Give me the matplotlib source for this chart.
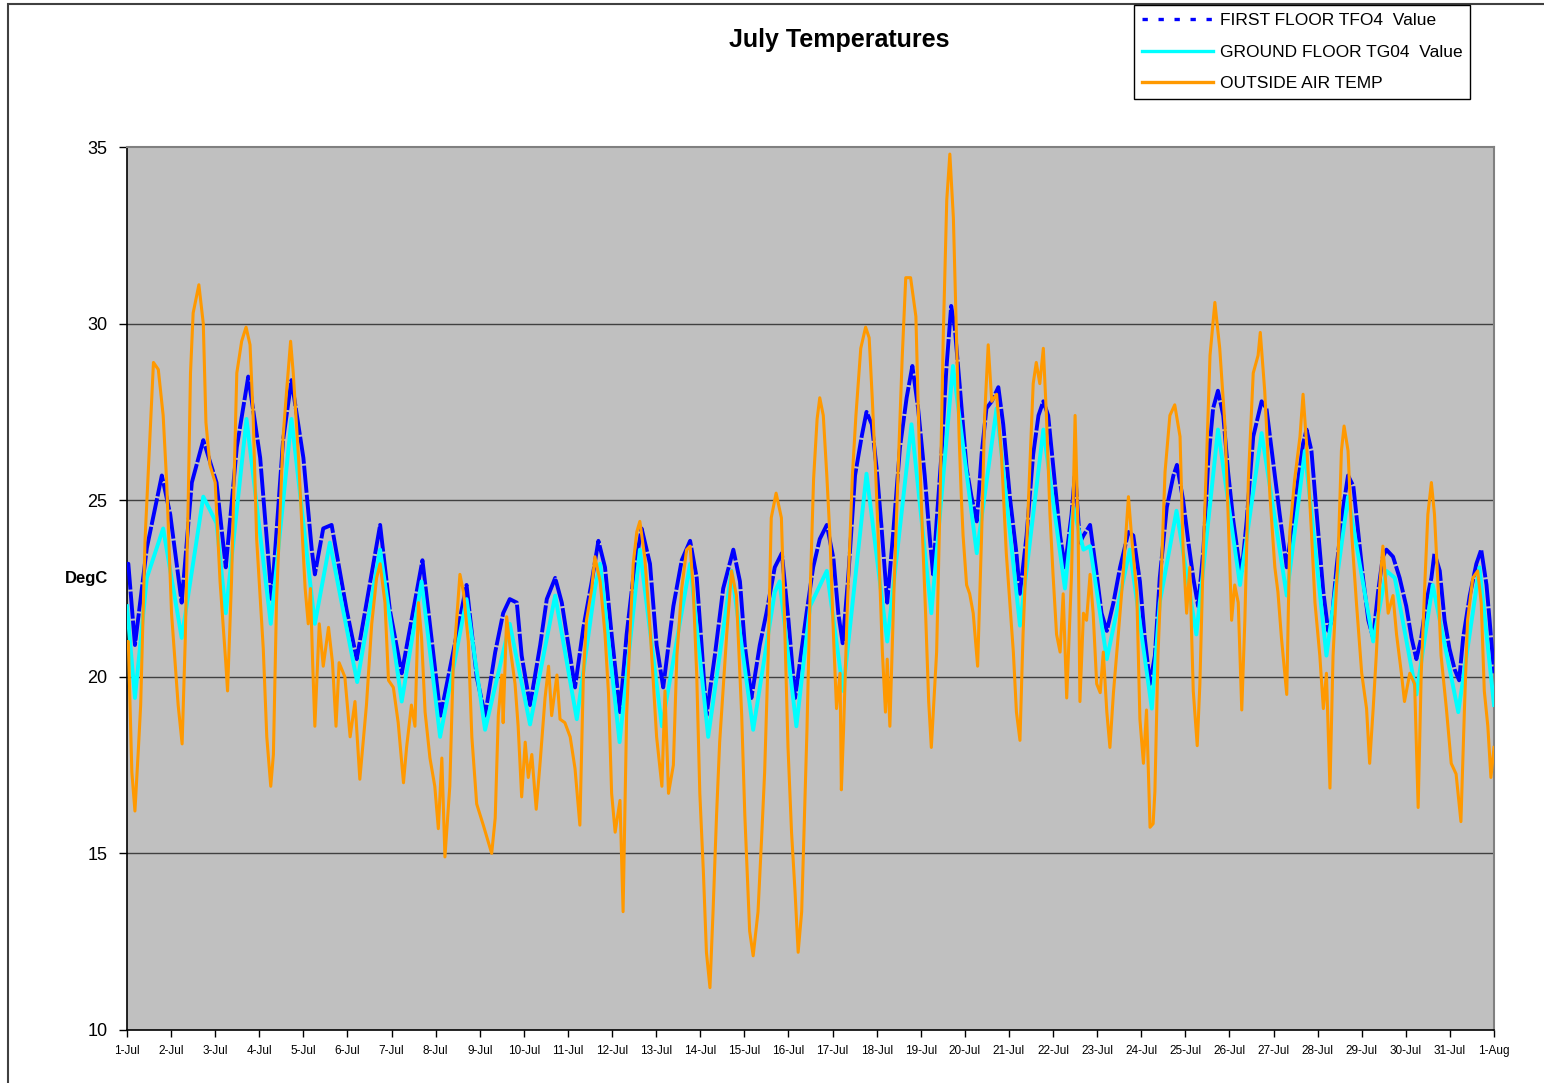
import numpy as np
from matplotlib import pyplot as plt
from matplotlib.lines import Line2D
from matplotlib.patches import Rectangle

plt.rcParams['font.family'] = ['Liberation Sans', 'DejaVu Sans']

# days since 1-Jul
first_floor_day = [0.0, 0.03, 0.18, 0.45, 0.79, 0.98, 1.24, 1.47, 1.73, 2.03, 2.24, 2.49, 2.75, 3.02, 3.28,
                   3.54, 3.73, 4.0, 4.19, 4.26, 4.45, 4.64, 4.98, 5.21, 5.74, 5.96, 6.23, 6.70, 7.11, 7.70,
                   7.93, 8.12, 8.35, 8.53, 8.68, 8.84, 8.95, 9.14, 9.37, 9.52, 9.71, 9.86, 10.01, 10.16,
                   10.35, 10.54, 10.69, 10.84, 10.99, 11.18, 11.33, 11.48, 11.67, 11.86, 12.01, 12.16,
                   12.39, 12.58, 12.77, 12.92, 13.03, 13.14, 13.33, 13.52, 13.75, 13.9, 14.01, 14.16,
                   14.35, 14.5, 14.69, 14.85, 15.0, 15.15, 15.41, 15.56, 15.71, 15.87, 16.02, 16.13,
                   16.23, 16.36, 16.51, 16.66, 16.77, 16.89, 17.0, 17.11, 17.24, 17.37, 17.53, 17.68,
                   17.81, 17.94, 18.09, 18.2, 18.28, 18.36, 18.47, 18.58, 18.69, 18.77, 18.88, 19.04,
                   19.15, 19.27, 19.38, 19.49, 19.61, 19.76, 19.87, 20.02, 20.17, 20.25, 20.4, 20.55,
                   20.67, 20.78, 20.89, 21.04, 21.16, 21.27, 21.42, 21.5, 21.61, 21.69, 21.84, 21.99,
                   22.1, 22.22, 22.37, 22.52, 22.71, 22.82, 22.97, 23.08, 23.2, 23.31, 23.42, 23.58,
                   23.73, 23.81, 23.95, 24.07, 24.18, 24.29, 24.41, 24.52, 24.63, 24.74, 24.86, 24.97,
                   25.09, 25.2, 25.28, 25.39, 25.54, 25.73, 25.84, 25.99, 26.14, 26.3, 26.37, 26.52,
                   26.67, 26.75, 26.86, 26.98, 27.13, 27.24, 27.32, 27.43, 27.58, 27.69, 27.81, 27.92,
                   28.03, 28.15, 28.26, 28.37, 28.48, 28.56, 28.71, 28.86, 29.01, 29.13, 29.24, 29.35,
                   29.46, 29.58, 29.65, 29.77, 29.88, 29.99, 30.11, 30.21, 30.3, 30.45, 30.6, 30.71,
                   30.83, 30.9, 31.0]
first_floor_temp = [23.2, 23.2, 20.9, 23.65, 25.7, 24.6, 22.1, 25.5, 26.7, 25.5, 23.1, 26.5, 28.5, 26.2, 22.2,
                    26.7, 28.4, 26.2, 23.6, 22.9, 24.2, 24.3, 21.9, 20.5, 24.3, 21.9, 20.1, 23.3, 18.9, 22.6,
                    20.0, 18.9, 20.7, 21.8, 22.2, 22.1, 20.6, 19.2, 20.9, 22.2, 22.8, 22.1, 20.9, 19.7,
                    21.4, 22.7, 23.85, 23.1, 21.2, 19.0, 21.2, 22.8, 24.2, 23.2, 20.9, 19.7,
                    22.0, 23.3, 23.85, 22.8, 20.9, 18.9, 20.6, 22.5, 23.6, 22.7, 20.9, 19.4,
                    20.9, 21.8, 23.1, 23.5, 21.6, 19.4, 21.8, 23.1, 23.9, 24.3, 23.35, 21.8,
                    20.95, 22.9, 25.7, 26.8, 27.5, 27.15, 25.9, 24.25, 22.1, 24.0, 26.5, 27.9,
                    28.8, 27.6, 25.7, 24.0, 22.9, 24.4, 26.3, 28.7, 30.5, 29.9, 28.3, 25.9,
                    25.1, 24.4, 26.3, 27.6, 27.8, 28.2, 27.15, 25.1, 23.5, 22.35, 24.0, 26.3,
                    27.4, 27.8, 27.4, 25.5, 24.0, 23.1, 24.6, 25.8, 23.8, 24.0, 24.3, 22.9,
                    21.8, 21.3, 22.1, 23.1, 24.1, 24.0, 22.7, 21.1, 19.8, 20.6, 22.8, 24.8,
                    25.7, 26.0, 25.0, 23.8, 22.8, 22.0, 23.6, 26.1, 27.6, 28.1, 27.4, 25.8,
                    24.4, 23.4, 23.0, 24.4, 26.8, 27.8, 27.6, 26.1, 24.6, 23.1, 23.8, 25.2,
                    26.6, 27.0, 26.4, 24.6, 22.4, 21.3, 21.6, 23.1, 24.8, 25.7, 25.4, 24.1,
                    22.8, 21.6, 21.1, 22.4, 23.4, 23.6, 23.4, 22.8, 22.0, 21.1, 20.5, 21.1,
                    22.1, 22.8, 23.5, 23.0, 21.6, 20.8, 20.2, 19.9, 21.1, 22.3, 23.2, 23.6,
                    22.6, 21.6, 20.1]

ground_floor_day = [0.0, 0.18, 0.45, 0.82, 1.24, 1.73, 2.03, 2.24, 2.71, 3.26, 3.73, 4.26, 4.6, 5.22, 5.74,
                    6.23, 6.68, 7.1, 7.7, 8.12, 8.68, 9.14, 9.71, 10.2, 10.61, 10.73, 11.17, 11.63, 12.13,
                    12.77, 13.18, 13.71, 14.2, 14.69, 14.8, 15.18, 15.49, 15.87, 16.24, 16.77, 17.24,
                    17.79, 18.24, 18.73, 19.27, 19.72, 20.25, 20.78, 21.27, 21.46, 21.69, 21.84, 22.22,
                    22.74, 23.24, 23.42, 23.8, 24.25, 24.74, 25.24, 25.73, 26.3, 26.71, 27.2, 27.69,
                    28.26, 28.56, 28.75, 29.24, 29.61, 30.19, 30.67, 31.0]
ground_floor_temp = [22.0, 19.4, 22.8, 24.2, 21.1, 25.1, 24.35, 21.8, 27.3, 21.5, 27.3, 21.5, 23.8, 19.85, 23.6,
                     19.3, 22.7, 18.3, 22.2, 18.5, 21.5, 18.65, 22.3, 18.8, 22.5, 23.2, 18.15, 23.6, 18.6,
                     23.2, 18.3, 23.0, 18.5, 22.4, 22.7, 18.6, 22.0, 23.0, 19.6, 25.75, 21.0,
                     27.15, 21.8, 28.8, 23.5, 27.6, 21.45, 27.0, 22.5, 24.8, 23.6, 23.7, 20.5,
                     23.6, 19.1, 22.1, 24.7, 21.2, 27.0, 22.6, 26.9, 22.3, 26.4, 20.6, 25.1,
                     21.0, 23.0, 22.8, 19.5, 22.6, 19.0, 23.1, 19.2]

outside_day = [0.0, 0.03, 0.11, 0.18, 0.26, 0.31, 0.41, 0.52, 0.6, 0.71, 0.82, 0.9, 1.01, 1.16, 1.25, 1.32,
               1.39, 1.44, 1.5, 1.63, 1.73, 1.79, 1.88, 2.0, 2.11, 2.24, 2.28, 2.37, 2.49, 2.6, 2.7, 2.79,
               2.86, 2.94, 3.09, 3.17, 3.26, 3.32, 3.39, 3.54, 3.62, 3.71, 3.77, 3.89, 3.98, 4.04, 4.11,
               4.16, 4.21, 4.26, 4.36, 4.45, 4.57, 4.66, 4.74, 4.81, 4.94, 5.06, 5.17, 5.28, 5.43, 5.55,
               5.66, 5.74, 5.85, 5.93, 6.04, 6.15, 6.27, 6.34, 6.45, 6.53, 6.61, 6.68, 6.76, 6.87, 6.98,
               7.06, 7.14, 7.21, 7.32, 7.4, 7.48, 7.55, 7.63, 7.74, 7.82, 7.93, 8.08, 8.27, 8.35, 8.42,
               8.5, 8.53, 8.61, 8.68, 8.8, 8.87, 8.95, 9.03, 9.1, 9.18, 9.28, 9.37, 9.48, 9.56, 9.63,
               9.75, 9.82, 9.93, 10.05, 10.16, 10.27, 10.35, 10.42, 10.54, 10.61, 10.73, 10.84, 10.92,
               10.99, 11.07, 11.18, 11.25, 11.33, 11.41, 11.48, 11.56, 11.63, 11.74, 11.86, 12.01,
               12.13, 12.2, 12.28, 12.39, 12.47, 12.58, 12.69, 12.77, 12.84, 12.92, 12.99, 13.07,
               13.14, 13.22, 13.29, 13.37, 13.44, 13.6, 13.71, 13.82, 13.94, 14.01, 14.12, 14.2,
               14.31, 14.39, 14.46, 14.54, 14.61, 14.72, 14.84, 14.92, 14.99, 15.07, 15.15, 15.22,
               15.3, 15.42, 15.49, 15.57, 15.65, 15.71, 15.79, 15.87, 15.94, 16.02, 16.09, 16.17,
               16.2, 16.25, 16.33, 16.45, 16.53, 16.64, 16.75, 16.83, 16.9, 16.98, 17.05, 17.13,
               17.2, 17.24, 17.3, 17.39, 17.5, 17.58, 17.66, 17.77, 17.89, 17.96, 18.04, 18.11,
               18.18, 18.24, 18.36, 18.44, 18.51, 18.59, 18.66, 18.74, 18.81, 18.87, 18.92, 18.96,
               19.04, 19.11, 19.19, 19.29, 19.38, 19.45, 19.53, 19.61, 19.72, 19.83, 19.94, 20.1,
               20.17, 20.25, 20.32, 20.43, 20.55, 20.62, 20.7, 20.78, 20.85, 20.93, 21.0, 21.08,
               21.16, 21.23, 21.31, 21.42, 21.5, 21.57, 21.61, 21.69, 21.76, 21.84, 21.91, 21.99,
               22.07, 22.14, 22.22, 22.29, 22.37, 22.48, 22.59, 22.71, 22.78, 22.9, 22.97, 23.05,
               23.12, 23.2, 23.27, 23.31, 23.38, 23.46, 23.54, 23.65, 23.76, 23.88, 23.95, 24.03,
               24.1, 24.18, 24.27, 24.33, 24.41, 24.48, 24.56, 24.67, 24.78, 24.9, 24.97, 25.05,
               25.12, 25.2, 25.28, 25.35, 25.43, 25.54, 25.65, 25.7, 25.8, 25.92, 26.03, 26.1,
               26.18, 26.3, 26.37, 26.48, 26.6, 26.67, 26.75, 26.86, 26.94, 27.05, 27.13, 27.2,
               27.28, 27.35, 27.47, 27.54, 27.6, 27.69, 27.77, 27.88, 28.0, 28.11, 28.18, 28.26,
               28.33, 28.41, 28.48, 28.6, 28.71, 28.79, 28.9, 28.97, 29.09, 29.2, 29.28, 29.35,
               29.43, 29.5, 29.58, 29.65, 29.73, 29.8, 29.92, 30.03, 30.14, 30.25, 30.33, 30.4,
               30.52, 30.63, 30.71, 30.78, 30.86, 30.93, 31.0]
outside_temp = [21.0, 21.0, 17.3, 16.2, 18.0, 19.2, 23.9, 26.8, 28.9, 28.7, 27.4, 25.5, 21.8, 19.2, 18.1, 21.0,
                25.1, 28.6, 30.3, 31.1, 30.0, 27.2, 26.0, 25.5, 22.7, 20.4, 19.6, 22.7, 28.6, 29.5, 29.9, 29.4,
                27.4, 23.9, 20.8, 18.3, 16.9, 17.8, 22.1, 26.8, 28.1, 29.5, 28.6, 26.2, 23.9, 22.5, 21.5,
                22.5, 20.4, 18.6, 21.5, 20.3, 21.4, 20.4, 18.6, 20.4, 20.0, 18.3, 19.3, 17.1, 19.2, 21.5,
                22.8, 23.2, 22.1, 19.9, 19.7, 18.7, 17.0, 18.0, 19.2, 18.6, 22.1, 21.1, 19.0, 17.7, 16.9,
                15.7, 17.7, 14.9, 16.9, 20.4, 21.7, 22.9, 22.4, 21.0, 18.3, 16.4, 15.8, 15.0, 16.0, 18.9,
                20.05, 18.7, 21.7, 20.9, 19.8, 18.6, 16.6, 18.15, 17.15, 17.8, 16.25, 17.6, 19.4, 20.3, 18.9,
                20.05, 18.8, 18.7, 18.3, 17.4, 15.8, 20.05, 21.6, 22.5, 23.4, 22.7, 21.2, 19.5,
                16.7, 15.6, 16.5, 13.35, 18.9, 21.3, 23.2, 24.1, 24.4, 23.4, 21.4, 18.3,
                16.9, 19.6, 16.7, 17.5, 20.6, 22.5, 23.6, 23.7, 22.5, 20.05, 16.7, 14.5,
                12.2, 11.2, 13.35, 16.1, 18.15, 21.2, 23.0, 22.3, 18.9, 16.1, 12.8, 12.1,
                13.35, 15.4, 17.3, 20.6, 24.5, 25.2, 24.5, 21.2, 18.0, 15.6, 13.9, 12.2,
                13.35, 18.5, 22.3, 25.6, 27.3, 27.9, 27.4, 25.7, 24.0, 21.2, 19.1, 20.1,
                16.8, 18.5, 21.8, 25.7, 27.4, 29.3, 29.9, 29.6, 27.9, 25.7, 23.5, 20.7,
                19.0, 20.5, 18.6, 22.35, 26.3, 29.05, 31.3, 31.3, 30.2, 26.8, 24.0, 21.8,
                19.3, 18.0, 20.7, 25.1, 29.6, 33.5, 34.8, 33.0, 29.6, 26.8, 25.1, 24.0,
                22.6, 22.35, 21.8, 20.3, 24.0, 27.4, 29.4, 27.8, 28.0, 26.3, 23.5, 20.7,
                19.0, 18.2, 21.2, 24.6, 28.3, 28.9, 28.3, 29.3, 27.4, 24.6, 22.9, 21.2,
                20.7, 22.35, 19.4, 22.9, 27.4, 24.0, 19.3, 21.8, 21.6, 22.9, 21.8, 19.8,
                19.55, 20.7, 19.0, 18.0, 19.55, 21.2, 22.9, 25.1, 24.0, 22.35, 18.8, 17.55,
                19.06, 15.74, 15.84, 16.75, 20.6, 23.1, 25.8, 27.4, 27.7, 26.8, 23.6, 21.8,
                23.1, 19.6, 18.05, 19.8, 23.6, 26.1, 29.1, 30.6, 29.3, 27.1, 24.6, 21.6,
                22.6, 22.1, 19.06, 21.6, 25.6, 28.6, 29.1, 29.75, 28.1, 25.1, 23.1, 22.4,
                21.1, 19.5, 24.1, 25.6, 26.8, 28.0, 26.6, 24.1, 22.1, 20.6, 19.1, 20.1,
                16.85, 20.6, 23.6, 26.4, 27.1, 26.4, 24.1, 22.1, 20.1, 19.1, 17.55, 19.1,
                20.6, 22.6, 23.7, 21.8, 22.3, 21.2, 20.1, 19.3, 20.1, 19.8, 16.3, 20.1,
                22.6, 24.6, 25.5, 24.6, 22.6, 20.6, 19.1, 17.55, 17.25, 15.9, 19.1, 21.6,
                22.8, 23.0, 22.1, 19.6, 18.6, 17.15, 18.0]

tick_labels = ['1-Jul', '2-Jul', '3-Jul', '4-Jul', '5-Jul', '6-Jul', '7-Jul', '8-Jul', '9-Jul', '10-Jul',
               '11-Jul', '12-Jul', '13-Jul', '14-Jul', '15-Jul', '16-Jul', '17-Jul', '18-Jul', '19-Jul',
               '20-Jul', '21-Jul', '22-Jul', '23-Jul', '24-Jul', '25-Jul', '26-Jul', '27-Jul', '28-Jul',
               '29-Jul', '30-Jul', '31-Jul', '1-Aug']
y_ticks = [10, 15, 20, 25, 30, 35]

W, H = 1544, 1083
fig = plt.figure(figsize=(W / 100, H / 100), dpi=100)
ax = fig.add_axes([127 / W, 1 - 1030 / H, (1494 - 127) / W, (1030 - 147) / H])
ax.set_facecolor('#c0c0c0')

ax.plot(first_floor_day, first_floor_temp, color='#0000ff', lw=2.8, dashes=(7, 0.5), zorder=3)
ax.plot(ground_floor_day, ground_floor_temp, color='#00ffff', lw=2.8, zorder=4)
ax.plot(outside_day, outside_temp, color='#ff9900', lw=2.2, zorder=5)

ax.set_xlim(0, len(tick_labels) - 1)
ax.set_ylim(10, 35)
ax.set_xticks(np.arange(len(tick_labels)))
ax.set_xticklabels(tick_labels, fontsize=8.5)
ax.set_yticks(y_ticks)
ax.tick_params(axis='y', labelsize=13, length=6, width=1, pad=8)
ax.tick_params(axis='x', length=5, width=1, pad=6)
for v in y_ticks[1:-1]:
    ax.axhline(v, color='#404040', lw=1.0, zorder=1)
for s in ['left', 'bottom']:
    ax.spines[s].set_color('black')
    ax.spines[s].set_linewidth(1.2)
for s in ['top', 'right']:
    ax.spines[s].set_color('#808080')
    ax.spines[s].set_linewidth(1.5)

fig.text(839 / W, 1 - 40 / H, 'July Temperatures', ha='center', va='center',
         fontsize=18, fontweight='bold')
fig.text(86 / W, 1 - 578 / H, 'DegC', ha='center', va='center', fontsize=12, fontweight='bold')

# outer chart border (right and bottom edges run off the picture)
fig.patches.append(Rectangle((8 / W, -0.02), 1.0, 1 - 4 / H + 0.02, transform=fig.transFigure,
                             fill=False, edgecolor='#404040', lw=1.5))

handles = [
    Line2D([], [], color='#0000ff', lw=2.4, dashes=(1.6, 3.2)),
    Line2D([], [], color='#00ffff', lw=2.4),
    Line2D([], [], color='#ff9900', lw=2.4),
]
labels = ['FIRST FLOOR TFO4  Value', 'GROUND FLOOR TG04  Value', 'OUTSIDE AIR TEMP']
leg = fig.legend(handles, labels, loc='upper left', bbox_to_anchor=(1134 / W, 1 - 5 / H),
                 bbox_transform=fig.transFigure, fontsize=12.5, frameon=True, fancybox=False,
                 edgecolor='black', framealpha=1, handlelength=4.1, handletextpad=0.4,
                 labelspacing=0.95, borderpad=0.45, borderaxespad=0)
leg.get_frame().set_linewidth(1.0)

fig.savefig('out.png', dpi=100, facecolor='white')
